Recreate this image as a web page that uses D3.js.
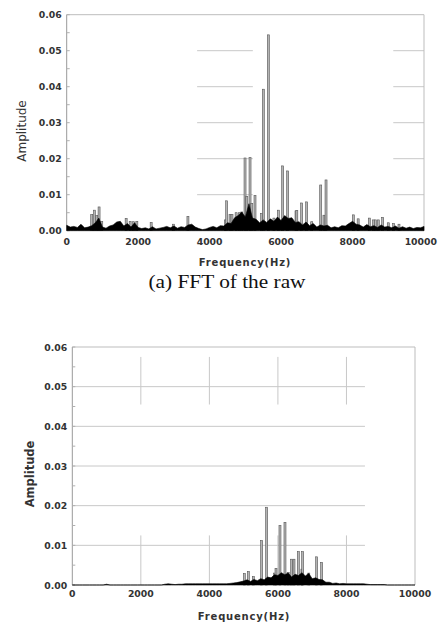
<!DOCTYPE html>
<html>
<head>
<meta charset="utf-8">
<script src="https://cdn.jsdelivr.net/npm/d3@7"></script>
<style>
  body { margin: 0; background: #fff; }
  svg { display: block; }
  .tick-label { font-family: "DejaVu Sans", Verdana, sans-serif; font-weight: bold; font-size: 9.3px; fill: #333; }
</style>
</head>
<body>
<script>
// frequency axis
var xTicks = [0, 2000, 4000, 6000, 8000, 10000];
var yTicks = [0, 0.01, 0.02, 0.03, 0.04, 0.05, 0.06];
var floorStep = 100; // Hz between floor samples

// (a) raw signal: noise floor (x 1e-3), every 100 Hz from 0 to 10000
var rawFloor = [
  1.5, 1.0, 1.2, 0.9, 1.8, 0.8, 1.0, 1.4, 2.2, 3.5,
  1.0, 0.7, 1.3, 1.6, 2.4, 2.6, 1.3, 2.0, 1.0, 2.2,
  0.9, 0.6, 0.8, 0.5, 1.1, 0.5, 0.7, 0.9, 1.2, 0.8,
  1.3, 0.7, 1.1, 0.9, 1.6, 1.8, 1.0, 0.6, 0.3, 0.5,
  0.9, 1.2, 0.8, 1.4, 1.3, 2.2, 2.0, 3.6, 4.2, 5.2,
  3.8, 7.5, 3.5, 3.2, 2.2, 3.0, 2.3, 3.3, 2.6, 3.8,
  2.8, 4.2, 3.4, 3.6, 2.3, 2.5, 1.6, 2.4, 1.4, 2.0,
  1.0, 1.6, 1.3, 1.5, 0.8, 1.1, 0.8, 1.4, 1.3, 2.0,
  2.6, 1.8, 1.6, 1.0, 1.7, 1.1, 1.4, 0.9, 1.6, 1.0,
  1.2, 0.8, 1.3, 0.7, 1.1, 0.7, 1.0, 0.6, 0.9, 0.8,
  1.2
];
// (a) raw signal: spectral lines [Hz, amplitude]
var rawFreqs = [700, 776, 841, 906, 981, 1664, 1776, 1869, 1963, 2364, 2990, 3393,
  4439, 4478, 4571, 4626, 4742, 4831, 4898, 4991, 5040, 5131, 5180, 5270, 5457, 5503, 5643,
  5800, 5923, 6045, 6185, 6418, 6440, 6577, 6717, 6857, 7109, 7200, 7258, 8022, 8157, 8469,
  8580, 8640, 8720, 8844, 9000, 9150, 9300];
var rawAmps = [0.0045, 0.0057, 0.0042, 0.0066, 0.0026, 0.0034, 0.0026, 0.0025, 0.0026, 0.0023, 0.0018, 0.0040,
  0.0030, 0.0083, 0.0045, 0.0045, 0.0050, 0.0050, 0.0052, 0.0202, 0.0095, 0.0203, 0.0076, 0.0098, 0.0048, 0.0393, 0.0544,
  0.0035, 0.0057, 0.0180, 0.0166, 0.0055, 0.0056, 0.0077, 0.0080, 0.0025, 0.0127, 0.0043, 0.0141, 0.0044, 0.0033, 0.0035,
  0.0030, 0.0030, 0.0030, 0.0037, 0.0022, 0.0020, 0.0018];

// (b) filtered signal: noise floor (x 1e-3)
var filtFloor = [
  0, 0, 0, 0, 0, 0, 0, 0, 0, 0,
  0.2, 0, 0, 0, 0, 0, 0, 0, 0, 0,
  0, 0, 0, 0, 0, 0, 0, 0.2, 0.3, 0.2,
  0.1, 0.2, 0.2, 0.3, 0.3, 0.3, 0.3, 0.3, 0.3, 0.3,
  0.3, 0.3, 0.3, 0.3, 0.3, 0.3, 0.4, 0.5, 0.6, 0.8,
  1.0, 1.3, 0.9, 1.4, 1.1, 1.6, 1.3, 2.0, 1.8, 2.6,
  2.4, 3.1, 2.6, 3.0, 2.0, 2.7, 2.4, 3.1, 2.3, 2.9,
  1.6, 1.8, 1.4, 1.3, 0.7, 0.7, 0.4, 0.5, 0.3, 0.4,
  0.3, 0.3, 0.3, 0.3, 0.3, 0.3, 0.2, 0.1, 0.1, 0.1,
  0.1, 0.1, 0, 0, 0, 0, 0, 0, 0, 0,
  0
];
var filtFreqs = [5019, 5136, 5282, 5525, 5671, 5900, 5944, 6060, 6206, 6300, 6400, 6469, 6595, 6700, 6722, 6900, 7130, 7276];
var filtAmps = [0.0029, 0.0034, 0.0021, 0.0112, 0.0196, 0.0030, 0.0042, 0.0150, 0.0158, 0.0032, 0.0065, 0.0065, 0.0084, 0.0040, 0.0084, 0.0030, 0.0071, 0.0057];

var W = 438, H = 623;
var svg = d3.select('body').append('svg').attr('width', W).attr('height', H);
svg.append('rect').attr('width', W).attr('height', H).attr('fill', '#fff');

function drawPanel(cfg) {
  var x = d3.scaleLinear().domain([0, 10000]).range([cfg.left, cfg.right]);
  var y = d3.scaleLinear().domain([0, 0.06]).range([cfg.bottom, cfg.top]);
  var g = svg.append('g');

  // partial grid lines
  cfg.hGrid.forEach(function(seg) {
    yTicks.slice(1, 6).forEach(function(t) {
      g.append('line').attr('x1', x(seg[0])).attr('x2', x(seg[1]))
        .attr('y1', y(t)).attr('y2', y(t))
        .attr('stroke', '#c8c8c8').attr('stroke-width', 1);
    });
  });
  cfg.vGrid.forEach(function(seg) {
    xTicks.slice(1, 5).forEach(function(t) {
      g.append('line').attr('x1', x(t)).attr('x2', x(t))
        .attr('y1', y(seg[0])).attr('y2', y(seg[1]))
        .attr('stroke', '#c8c8c8').attr('stroke-width', 1);
    });
  });

  // frame
  g.append('path')
    .attr('d', 'M' + x(0) + ',' + y(0.06) + 'H' + x(10000) + 'V' + y(0))
    .attr('fill', 'none').attr('stroke', '#bdbdbd').attr('stroke-width', 1);
  g.append('line').attr('x1', x(0)).attr('x2', x(0)).attr('y1', y(0.06)).attr('y2', y(0))
    .attr('stroke', '#999').attr('stroke-width', 1);
  d3.range(0, 0.0601, 0.005).forEach(function(t) {
    g.append('line').attr('x1', x(0)).attr('x2', x(0) + 3)
      .attr('y1', y(t)).attr('y2', y(t)).attr('stroke', '#b0b0b0');
  });

  // spectral lines
  g.selectAll('rect.spike').data(cfg.freqs).enter().append('rect')
    .attr('class', 'spike')
    .attr('x', function(d) { return x(d) - 1; })
    .attr('width', 2)
    .attr('y', function(d, i) { return y(cfg.amps[i]); })
    .attr('height', function(d, i) { return y(0) - y(cfg.amps[i]); })
    .attr('fill', '#b4b4b4').attr('stroke', '#555').attr('stroke-width', 0.6);

  // dense noise floor
  var area = d3.area()
    .x(function(d, i) { return x(i * floorStep); })
    .y0(y(0))
    .y1(function(d) { return y(d / 1000); });
  g.append('path').datum(cfg.floor).attr('d', area).attr('fill', '#000')
    .attr('stroke', '#000').attr('stroke-width', 0.6);

  // tick labels
  g.selectAll('text.yl').data(yTicks).enter().append('text')
    .attr('class', 'tick-label').attr('text-anchor', 'end')
    .attr('x', x(0) - 5).attr('y', function(d) { return y(d) + 3.5; })
    .text(function(d) { return d.toFixed(2); });
  g.selectAll('text.xl').data(xTicks).enter().append('text')
    .attr('class', 'tick-label')
    .attr('text-anchor', function(d) { return (d === 10000 && cfg.lastTickEnd) ? 'end' : 'middle'; })
    .attr('x', function(d) { return (d === 10000 && cfg.lastTickEnd) ? cfg.lastTickEnd : x(d); })
    .attr('y', cfg.xLabelY)
    .text(function(d) { return d; });

  g.append('text').attr('x', cfg.xTitle[0]).attr('y', cfg.xTitle[1])
    .attr('text-anchor', 'middle')
    .style('font-family', '"DejaVu Sans", Verdana, sans-serif').style('font-weight', 'bold')
    .style('font-size', '10px').style('letter-spacing', '0.8px').style('fill', '#333')
    .text('Frequency(Hz)');
  g.append('text')
    .attr('transform', 'translate(' + cfg.yTitle[0] + ',' + cfg.yTitle[1] + ') rotate(-90)')
    .attr('text-anchor', 'middle')
    .style('font-family', '"DejaVu Sans", Verdana, sans-serif').style('font-weight', cfg.yTitleWeight)
    .style('font-size', cfg.yTitleSize).style('fill', '#333')
    .text('Amplitude');
}

drawPanel({
  left: 66.7, right: 424, top: 14.7, bottom: 230.7,
  floor: rawFloor, freqs: rawFreqs, amps: rawAmps,
  hGrid: [[3650, 5210], [9140, 10000]], vGrid: [],
  xLabelY: 244.5, xTitle: [245, 266], yTitle: [26, 131], lastTickEnd: 437,
  yTitleWeight: 'normal', yTitleSize: '12px'
});

svg.append('text').attr('x', 227).attr('y', 288).attr('text-anchor', 'middle')
  .style('font-family', '"Liberation Serif", "Times New Roman", serif')
  .style('font-size', '18px').style('fill', '#111')
  .attr('textLength', 157).attr('lengthAdjust', 'spacingAndGlyphs')
  .text('(a) FFT of the raw');

drawPanel({
  left: 72.3, right: 415, top: 347, bottom: 585,
  floor: filtFloor, freqs: filtFreqs, amps: filtAmps,
  hGrid: [[0, 8540]], vGrid: [[0.0575, 0.0455], [0.0125, 0]],
  xLabelY: 597, xTitle: [244, 619.5], yTitle: [34, 474],
  yTitleWeight: 'bold', yTitleSize: '11.5px'
});
</script>
</body>
</html>
